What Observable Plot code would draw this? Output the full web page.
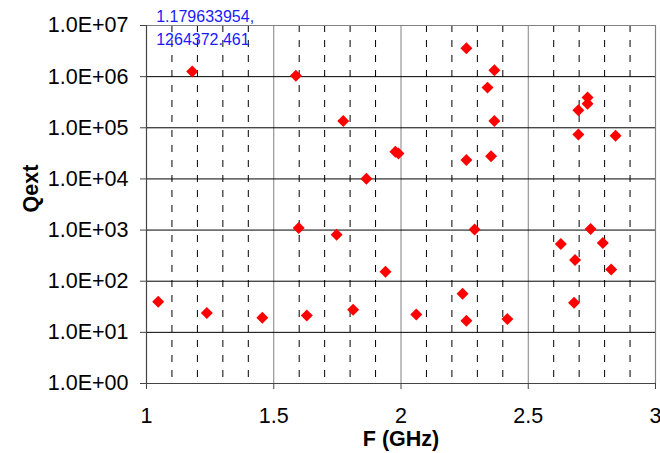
<!DOCTYPE html>
<html>
<head>
<meta charset="utf-8">
<script src="https://cdn.jsdelivr.net/npm/d3@7"></script>
<script src="https://cdn.jsdelivr.net/npm/@observablehq/plot@0.6"></script>
<style>
  html, body { margin: 0; padding: 0; background: #fff; }
  #chart svg { display: block; }
</style>
</head>
<body>
<div id="chart"></div>
<script>
// Resonant frequencies (GHz) and external quality factors of the computed modes
const freqGHz = [
  1.179633954, 1.587, 2.257, 2.367, 2.340, 1.773, 2.367, 1.978, 1.990, 2.257,
  2.354, 1.864, 2.733, 2.733, 2.697, 2.697, 2.843, 1.598, 1.046, 1.237,
  1.455, 1.630, 1.747, 2.289, 2.745, 2.628, 2.793, 2.684, 2.826, 1.939,
  2.242, 1.812, 2.060, 2.257, 2.418, 2.680
];
const qext = [
  1264372.461, 1.04e6, 3.6e6, 1.33e6, 6.1e5, 1.36e5, 1.36e5, 3.4e4, 3.15e4, 2.35e4,
  2.77e4, 1.01e4, 3.9e5, 2.94e5, 2.2e5, 7.4e4, 7.0e4, 1.1e3, 39.7, 23.9,
  19.3, 21.4, 813, 1.03e3, 1.05e3, 535, 559, 260, 170, 153,
  57, 27.7, 22.4, 16.9, 18.2, 38
];

// Axis ticks and grid positions
const xTicks = [1, 1.5, 2, 2.5, 3];
const xMajorGrid = [1.5, 2, 2.5];
const xMinorGrid = [1.1, 1.2, 1.3, 1.4, 1.6, 1.7, 1.8, 1.9, 2.1, 2.2, 2.3, 2.4, 2.6, 2.7, 2.8, 2.9];
const yDecades = [1, 1e1, 1e2, 1e3, 1e4, 1e5, 1e6, 1e7];

// Data label shown for one selected point
const labelledIndex = 0;

const modes = freqGHz.map((f, i) => ({f, q: qext[i]}));
const labelled = [modes[labelledIndex]];

// Scientific format like 1.0E+07
const sci = d => {
  const [m, e] = d.toExponential(1).split("e");
  const n = +e;
  return `${m}E${n < 0 ? "-" : "+"}${String(Math.abs(n)).padStart(2, "0")}`;
};

const font = "'Liberation Sans', Arial, sans-serif";

const chart = Plot.plot({
  width: 660,
  height: 453,
  marginLeft: 146,
  marginRight: 5,
  marginTop: 25,
  marginBottom: 70,
  style: {fontFamily: font, background: "#fff", overflow: "visible"},
  x: {domain: [1, 3]},
  y: {type: "log", domain: [1, 1e7]},
  marks: [
    // dashed minor verticals
    Plot.ruleX(xMinorGrid, {stroke: "#000", strokeWidth: 1, strokeDasharray: "7,8"}),
    // solid major verticals
    Plot.ruleX(xMajorGrid, {stroke: "#808080", strokeWidth: 1}),
    // horizontal decade gridlines
    Plot.ruleY(yDecades.slice(1, -1), {stroke: "#000", strokeWidth: 1}),
    // frame: top and right in gray, left and bottom axes darker
    Plot.ruleY([1e7], {stroke: "#808080", strokeWidth: 1.2}),
    Plot.ruleX([3], {stroke: "#808080", strokeWidth: 1.2}),
    Plot.ruleX([1], {stroke: "#444", strokeWidth: 1.2}),
    Plot.ruleY([1], {stroke: "#444", strokeWidth: 1.2}),
    Plot.axisY({
      ticks: yDecades, tickFormat: sci, tickSize: 6, tickPadding: 12,
      fontSize: 21.5, stroke: "#444", fill: "#000", label: null
    }),
    Plot.axisX({
      ticks: xTicks, tickFormat: d => String(d), tickSize: 6, tickPadding: 18,
      fontSize: 21.5, stroke: "#444", fill: "#000", label: null
    }),
    Plot.text(["F (GHz)"], {
      frameAnchor: "bottom", lineAnchor: "bottom", dy: 62,
      fontSize: 21.5, fontWeight: "bold", fill: "#000"
    }),
    Plot.text(["Qext"], {
      frameAnchor: "left", rotate: -90, dx: -115, dy: 8,
      fontSize: 21.5, fontWeight: "bold", fill: "#000"
    }),
    Plot.dot(modes, {
      x: "f", y: "q", symbol: "diamond2", r: 5.4,
      fill: "#ff0000", stroke: "none"
    }),
    Plot.text(labelled, {
      x: "f", y: "q", text: d => `${d.f},\n${d.q}`,
      textAnchor: "start", lineAnchor: "top", lineHeight: 1.41,
      dx: -36, dy: -65, fontSize: 16, fill: "#1a1aff"
    })
  ]
});

document.getElementById("chart").appendChild(chart);
</script>
</body>
</html>
